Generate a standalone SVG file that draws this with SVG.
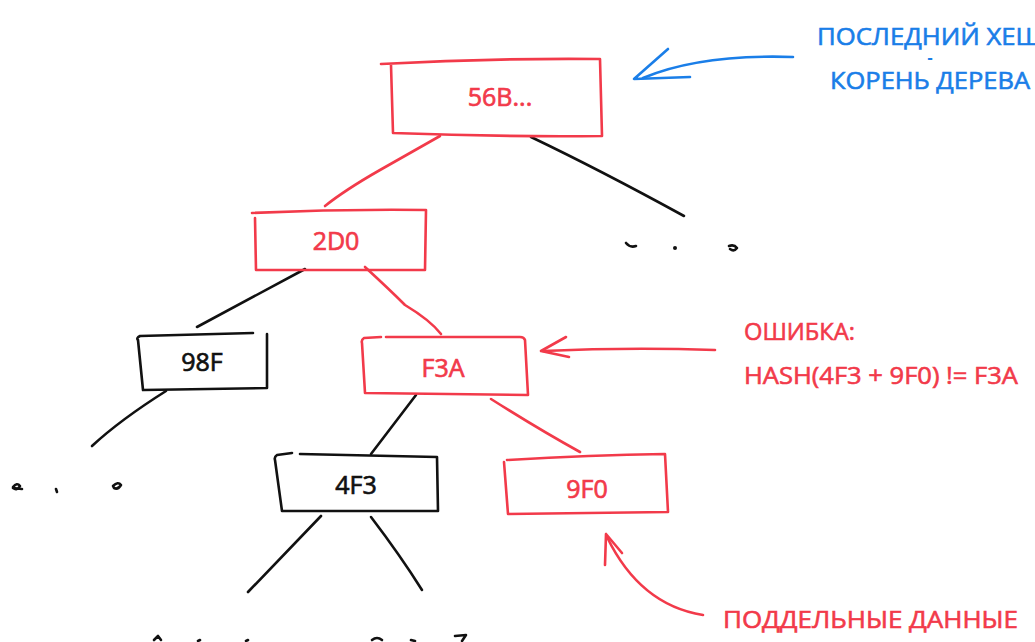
<svg xmlns="http://www.w3.org/2000/svg" width="1035" height="642" viewBox="0 0 1035 642">
  <style>
    .red { stroke: #f23a4a; }
    .blk { stroke: #111111; }
    .blue { stroke: #1a7ee8; }
    .sk { fill: none; stroke-width: 2.6; stroke-linecap: round; stroke-linejoin: round; }
    .lbl { font-family: "Open Sans", "Liberation Sans", sans-serif; font-size: 25px; text-anchor: middle; stroke-width: 0.7; }
    .note { font-family: "Open Sans", "Liberation Sans", sans-serif; font-size: 24px; stroke-width: 0.6; }
    .tr { fill: #f23a4a; stroke: #f23a4a; }
    .tb { fill: #111111; stroke: #111111; }
    .tbl { fill: #1a7ee8; stroke: #1a7ee8; }
  </style>
  <rect width="1035" height="642" fill="#ffffff"/>

  <!-- tree edges -->
  <g id="connectors">
    <path class="sk red" d="M440 136 L380 170 Q345 190 325 206"/>
    <path class="sk blk" d="M531 137 Q600 170 684 216"/>
    <path class="sk blk" d="M305 269 L197 327"/>
    <path class="sk red" d="M365 267 Q390 290 405 305 Q430 320 441 334"/>
    <path class="sk blk" d="M166 391 Q120 420 92 446"/>
    <path class="sk blk" d="M416 395 L371 454"/>
    <path class="sk red" d="M491 399 Q540 430 580 452"/>
    <path class="sk blk" d="M321 516 L248 592"/>
    <path class="sk blk" d="M371 517 Q400 555 422 590"/>
  </g>

  <!-- trailing marks for elided subtrees -->
  <g id="elided">
    <path class="sk blk" stroke-width="3" d="M626 243 Q630 248 636 246"/>
    <circle cx="675" cy="248" r="2" fill="#111"/>
    <path class="sk blk" stroke-width="3" d="M729 246 Q734 244 737 248 Q734 252 730 249"/>
    <path class="sk blk" stroke-width="3" d="M13 487 Q17 482 20 486 Q17 491 13 488 L22 489"/>
    <path class="sk blk" stroke-width="3" d="M56 489 L57 492"/>
    <path class="sk blk" stroke-width="3" d="M113 486 Q118 481 121 485 Q118 490 114 488 Z"/>
    <path class="sk blk" stroke-width="3" d="M154 640 L158 636 L161 640"/>
    <path class="sk blk" stroke-width="3" d="M198 641 L200 640"/>
    <path class="sk blk" stroke-width="3" d="M246 641 L248 640"/>
    <path class="sk blk" stroke-width="3" d="M372 640 Q377 636 382 640"/>
    <path class="sk blk" stroke-width="3" d="M411 640 L415 641"/>
    <path class="sk blk" stroke-width="3" d="M455 636 L466 635 L462 641"/>
  </g>

  <g id="node-56b">
    <path class="sk red" d="M381 64 Q490 58 600 59 L602 136 Q500 137 393 133 L391 65"/>
    <text class="lbl tr" x="500" y="106">56B...</text>
  </g>

  <g id="node-2d0">
    <path class="sk red" d="M252 213 Q340 209 426 210 L425 270 L256 270 L255 218"/>
    <text class="lbl tr" x="336" y="250">2D0</text>
  </g>

  <g id="node-98f">
    <path class="sk blk" d="M253 333 L140 336 Q136 338 138 340 L143 390 L267 388 L267 334"/>
    <text class="lbl tb" x="202" y="371">98F</text>
  </g>

  <g id="node-f3a">
    <path class="sk red" d="M381 337 L364 338 Q361 340 362 343 L365 393 L528 395 L525 340 Q524 337 520 337 L386 337"/>
    <text class="lbl tr" x="443" y="377">F3A</text>
  </g>

  <g id="node-4f3">
    <path class="sk blk" d="M292 453 L277 455 Q274 457 275 460 L282 511 L438 511 L437 457 L300 454"/>
    <text class="lbl tb" x="356" y="494">4F3</text>
  </g>

  <g id="node-9f0">
    <path class="sk red" d="M507 460 Q590 455 665 454 L668 512 L508 514 L504 462"/>
    <text class="lbl tr" x="587" y="498">9F0</text>
  </g>

  <!-- root note -->
  <g id="note-root">
    <path class="sk blue" stroke-width="3" d="M793 57 Q700 54 643 78"/>
    <path class="sk blue" stroke-width="3" d="M668 49 L634 79 L690 77"/>
    <text class="note tbl" x="817" y="45" textLength="225" lengthAdjust="spacingAndGlyphs">ПОСЛЕДНИЙ ХЕШ</text>
    <text class="tbl" x="930" y="60.5" font-family="Open Sans, Liberation Sans, sans-serif" font-size="8" stroke-width="0.5" text-anchor="middle">=</text>
    <text class="note tbl" x="830" y="89" textLength="200" lengthAdjust="spacingAndGlyphs">КОРЕНЬ ДЕРЕВА</text>
  </g>

  <!-- error note -->
  <g id="note-error">
    <path class="sk red" stroke-width="3" d="M715 350 Q630 347 543 351"/>
    <path class="sk red" stroke-width="3" d="M566 337 L541 351 L569 357"/>
    <text class="note tr" x="744" y="340" textLength="111" lengthAdjust="spacingAndGlyphs">ОШИБКА:</text>
    <text class="note tr" x="744" y="384" textLength="274" lengthAdjust="spacingAndGlyphs">HASH(4F3 + 9F0) != F3A</text>
  </g>

  <!-- forged data note -->
  <g id="note-forged">
    <path class="sk red" stroke-width="3" d="M703 615 Q640 605 607 537"/>
    <path class="sk red" stroke-width="3" d="M622 553 L606 534 L605 565"/>
    <text class="note tr" x="723" y="628" textLength="295" lengthAdjust="spacingAndGlyphs">ПОДДЕЛЬНЫЕ ДАННЫЕ</text>
  </g>
</svg>
